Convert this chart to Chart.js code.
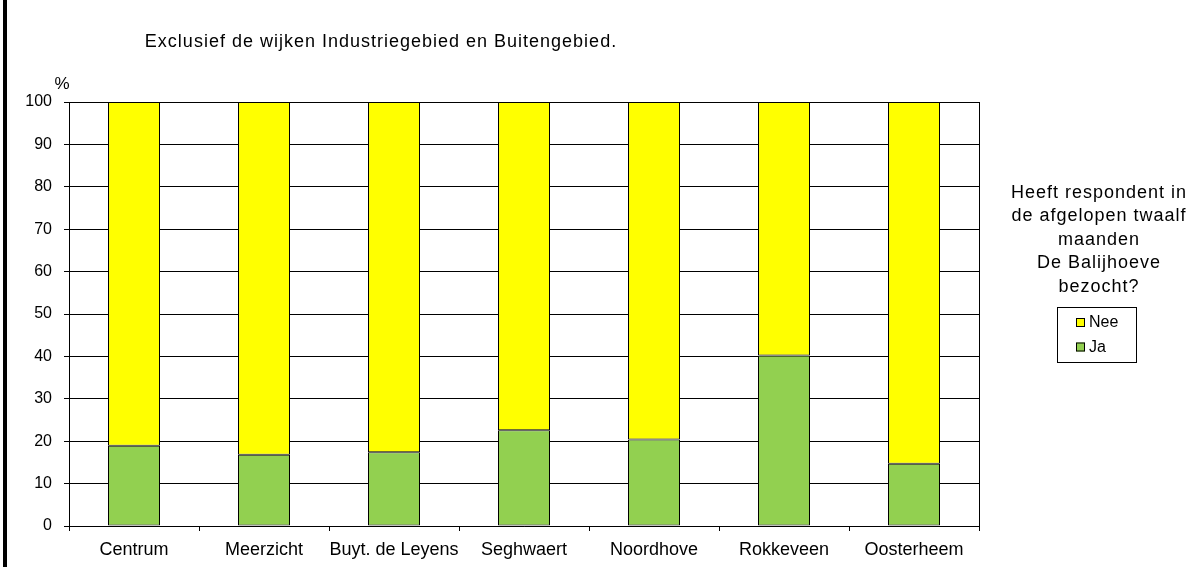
<!DOCTYPE html>
<html>
<head>
<meta charset="utf-8">
<script src="https://cdn.jsdelivr.net/npm/chart.js@4"></script>
<style>
  body { margin: 0; background: #fff; }
  #wrap { position: relative; width: 1198px; height: 567px; }
  #rand { position: absolute; left: 3px; top: 0; width: 4px; height: 567px; background: #000; }
  canvas { position: absolute; left: 0; top: 0; }
</style>
</head>
<body>
<div id="wrap">
  <canvas id="balijChart" width="1198" height="567"></canvas>
  <div id="rand"></div>
</div>
<script>
  // wijken
  const wijken = ["Centrum", "Meerzicht", "Buyt. de Leyens", "Seghwaert", "Noordhove", "Rokkeveen", "Oosterheem"];
  // percentages
  const ja  = [18.9, 16.8, 17.4, 22.6, 20.4, 40.2, 14.7];
  const nee = [81.1, 83.2, 82.6, 77.4, 79.6, 59.8, 85.3];
  const yTicks = [0, 10, 20, 30, 40, 50, 60, 70, 80, 90, 100];

  const ondertitel = "Exclusief de wijken Industriegebied en Buitengebied.";
  const legendaTitel = ["Heeft respondent in", "de afgelopen twaalf", "maanden", "De Balijhoeve", "bezocht?"];

  const FONT = "'Liberation Sans', Arial, sans-serif";

  // teksten en legenda rechts
  const teksten = {
    id: "teksten",
    afterDraw(chart) {
      const ctx = chart.ctx;
      ctx.save();
      ctx.fillStyle = "#000";
      ctx.textBaseline = "alphabetic";
      if ("letterSpacing" in ctx) ctx.letterSpacing = "1px";

      ctx.font = "18px " + FONT;
      ctx.textAlign = "center";
      ctx.fillText(ondertitel, 381, 47);

      legendaTitel.forEach((regel, i) => {
        ctx.fillText(regel, 1099, 198 + i * 23.4);
      });

      if ("letterSpacing" in ctx) ctx.letterSpacing = "0px";
      ctx.font = "17px " + FONT;
      ctx.fillText("%", 62, 89);

      // legenda kader
      ctx.strokeStyle = "#000";
      ctx.lineWidth = 1;
      ctx.strokeRect(1057.5, 307.5, 79, 55);

      const sets = chart.data.datasets.slice().reverse();
      ctx.font = "16px " + FONT;
      ctx.textAlign = "left";
      ctx.textBaseline = "middle";
      sets.forEach((ds, i) => {
        const y = 318 + i * 24.5;
        ctx.fillStyle = ds.backgroundColor;
        ctx.fillRect(1076, y, 9, 9);
        ctx.strokeRect(1076.5, y + 0.5, 8, 8);
        ctx.fillStyle = "#000";
        ctx.fillText(ds.label, 1089, y + 5);
      });
      ctx.restore();
    }
  };

  const ctx = document.getElementById("balijChart").getContext("2d");
  new Chart(ctx, {
    type: "bar",
    data: {
      labels: wijken,
      datasets: [
        { label: "Ja", data: ja, backgroundColor: "#92D050", borderColor: "#000", borderWidth: 1,
          borderSkipped: false, categoryPercentage: 1, barPercentage: 0.4 },
        { label: "Nee", data: nee, backgroundColor: "#FFFF00", borderColor: "#000", borderWidth: 1,
          borderSkipped: false, categoryPercentage: 1, barPercentage: 0.4 }
      ]
    },
    options: {
      responsive: false,
      animation: false,
      devicePixelRatio: 1,
      layout: { padding: { left: 9, right: 219, top: 102, bottom: 0 } },
      plugins: {
        legend: { display: false },
        title: { display: false },
        tooltip: { enabled: false }
      },
      scales: {
        x: {
          stacked: true,
          afterFit: s => { s.height = 41; },
          grid: {
            offset: true,
            color: c => (c.index === undefined ? "#000" : "rgba(0,0,0,0)"),
            tickColor: "#000",
            tickLength: 5
          },
          border: { color: "#000", width: 1 },
          ticks: { color: "#000", font: { family: FONT, size: 18 }, padding: 8, maxRotation: 0, autoSkip: false }
        },
        y: {
          stacked: true,
          min: 0,
          max: 100,
          afterFit: s => { s.width = 60; },
          afterBuildTicks: s => { s.ticks = yTicks.map(v => ({ value: v })); },
          grid: { color: "#000", tickColor: "#000", tickLength: 5 },
          border: { color: "#000", width: 1 },
          ticks: { color: "#000", font: { family: FONT, size: 16 }, padding: 12 }
        }
      }
    },
    plugins: [teksten]
  });
</script>
</body>
</html>
